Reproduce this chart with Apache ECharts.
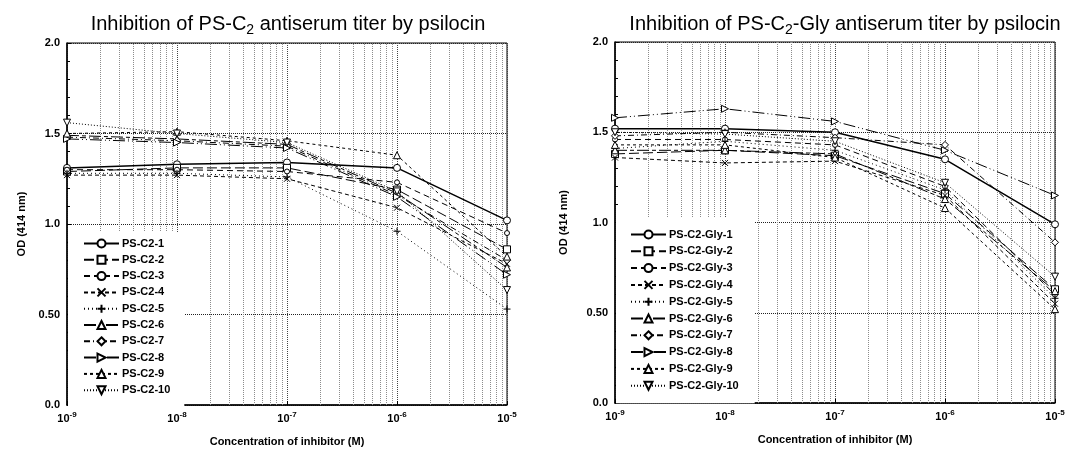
<!DOCTYPE html>
<html><head><meta charset="utf-8">
<script src="https://cdn.jsdelivr.net/npm/echarts@6/dist/echarts.min.js"></script>
<style>html,body{margin:0;padding:0;background:#fff}#c{width:1091px;height:457px}</style>
</head><body><div id="c"></div>
<script>
// ---- data ----
const xValues = [1e-9, 1e-8, 1e-7, 1e-6, 1e-5];
const xTickExp = [-9, -8, -7, -6, -5];
const yTicks = [0, 0.5, 1.0, 1.5, 2.0];
const yTickLabels = ['0.0', '0.50', '1.0', '1.5', '2.0'];

const leftTitle = 'Inhibition of PS-C{sub|2} antiserum titer by psilocin';
const rightTitle = 'Inhibition of PS-C{sub|2}-Gly antiserum titer by psilocin';
const xAxisName = 'Concentration of inhibitor (M)';
const yAxisName = 'OD (414 nm)';

const leftNames = ['PS-C2-1','PS-C2-2','PS-C2-3','PS-C2-4','PS-C2-5','PS-C2-6','PS-C2-7','PS-C2-8','PS-C2-9','PS-C2-10'];
const psc2_1  = [1.31, 1.33, 1.34, 1.31, 1.02];
const psc2_2  = [1.29, 1.31, 1.31, 1.19, 0.86];
const psc2_3  = [1.30, 1.30, 1.29, 1.23, 0.95];
const psc2_4  = [1.27, 1.27, 1.25, 1.09, 0.78];
const psc2_5  = [1.28, 1.28, 1.26, 0.96, 0.53];
const psc2_6  = [1.49, 1.47, 1.44, 1.17, 0.76];
const psc2_7  = [1.48, 1.46, 1.43, 1.16, 0.80];
const psc2_8  = [1.47, 1.45, 1.42, 1.15, 0.72];
const psc2_9  = [1.50, 1.51, 1.46, 1.38, 0.82];
const psc2_10 = [1.56, 1.50, 1.45, 1.18, 0.635];
const leftValues = [psc2_1, psc2_2, psc2_3, psc2_4, psc2_5, psc2_6, psc2_7, psc2_8, psc2_9, psc2_10];

const rightNames = ['PS-C2-Gly-1','PS-C2-Gly-2','PS-C2-Gly-3','PS-C2-Gly-4','PS-C2-Gly-5','PS-C2-Gly-6','PS-C2-Gly-7','PS-C2-Gly-8','PS-C2-Gly-9','PS-C2-Gly-10'];
const gly_1  = [1.52, 1.52, 1.50, 1.35, 0.99];
const gly_2  = [1.38, 1.40, 1.37, 1.16, 0.63];
const gly_3  = [1.46, 1.46, 1.43, 1.20, 0.60];
const gly_4  = [1.36, 1.33, 1.34, 1.15, 0.55];
const gly_5  = [1.41, 1.45, 1.40, 1.18, 0.58];
const gly_6  = [1.40, 1.40, 1.38, 1.13, 0.62];
const gly_7  = [1.48, 1.50, 1.47, 1.43, 0.89];
const gly_8  = [1.58, 1.63, 1.56, 1.40, 1.15];
const gly_9  = [1.43, 1.43, 1.36, 1.08, 0.52];
const gly_10 = [1.50, 1.49, 1.45, 1.22, 0.70];
const rightValues = [gly_1, gly_2, gly_3, gly_4, gly_5, gly_6, gly_7, gly_8, gly_9, gly_10];

// ---- styles ----
const symbols = ['circle','rect','circle','path://M0,0L10,10M10,0L0,10','path://M5,0L5,10M0,5L10,5','triangle','diamond','triangle','triangle','triangle'];
const symbolRot = [0,0,0,0,0,0,0,-90,0,180];
const symbolSizes = [7,7,5,6,7,7,7,7,7,7];
const lineTypes = ['solid',[10,4],[6,4],[4,3],[1,3],[12,3,4,3],[6,3,1,3],[12,3,1,3,1,3],[3,3],[1,2]];
const lineWidths = [1.5,1,1,1,1,1,1,1,1,1];

// minor log grid positions (2..9 within each decade)
const minorX = [];
for (let d = -9; d <= -6; d++) for (let k = 2; k <= 9; k++) minorX.push(k * Math.pow(10, d));

const FONT = 'Liberation Sans, Arial, Helvetica, sans-serif';

function makeSeries(names, values, gi) {
  const out = [{
    type: 'lines', coordinateSystem: 'cartesian2d', xAxisIndex: gi, yAxisIndex: gi,
    silent: true, animation: false, z: 1,
    lineStyle: { type: 'dotted', color: '#8c8c8c', width: 1, opacity: 1 },
    data: minorX.map(v => ({ coords: [[v, 0], [v, 2]] }))
  }];
  names.forEach((n, i) => {
    out.push({
      name: n, type: 'line', xAxisIndex: gi, yAxisIndex: gi,
      data: xValues.map((x, j) => [x, values[i][j]]),
      symbol: symbols[i], symbolRotate: symbolRot[i], symbolSize: symbolSizes[i],
      showAllSymbol: true,
      lineStyle: { color: '#000', width: lineWidths[i], type: lineTypes[i] },
      itemStyle: { color: '#fff', borderColor: '#000', borderWidth: 1 },
      emphasis: { disabled: true },
      animation: false, z: 5
    });
  });
  return out;
}

function xAxisCfg(gi) {
  return {
    type: 'log', logBase: 10, min: 1e-9, max: 1e-5, gridIndex: gi,
    name: xAxisName, nameLocation: 'middle', nameGap: 31,
    nameTextStyle: { fontFamily: FONT, fontWeight: 'bold', fontSize: 11, color: '#000' },
    axisLine: { lineStyle: { color: '#000', width: 1.5 } },
    axisTick: { show: true, inside: true, length: 4, lineStyle: { color: '#000' } },
    splitLine: { show: true, lineStyle: { type: 'dotted', color: '#444', width: 1 } },
    axisLabel: {
      color: '#000', fontFamily: FONT, fontWeight: 'bold', fontSize: 11, margin: 6,
      formatter: v => {
        const e = Math.round(Math.log10(v));
        const idx = xTickExp.indexOf(e);
        return '10{sup|' + xTickExp[idx] + '}';
      },
      rich: { sup: { fontSize: 8, fontFamily: FONT, fontWeight: 'bold', verticalAlign: 'top', lineHeight: 15, color: '#000' } }
    }
  };
}

function yAxisCfg(gi, gap) {
  return {
    type: 'value', min: 0, max: 2, interval: 0.5, gridIndex: gi,
    name: yAxisName, nameLocation: 'middle', nameGap: gap, nameRotate: 90,
    nameTextStyle: { fontFamily: FONT, fontWeight: 'bold', fontSize: 11, color: '#000' },
    axisLine: { show: true, lineStyle: { color: '#000', width: 1.5 } },
    axisTick: { show: true, inside: true, length: 4, lineStyle: { color: '#000' } },
    minorTick: { show: true, splitNumber: 5, length: 3, lineStyle: { color: '#000' } },
    splitLine: { show: true, lineStyle: { type: 'dotted', color: '#222', width: 1 } },
    axisLabel: {
      color: '#000', fontFamily: FONT, fontWeight: 'bold', fontSize: 11, margin: 7,
      formatter: v => { const i = yTicks.findIndex(t => Math.abs(t - v) < 1e-9); return i >= 0 ? yTickLabels[i] : ''; }
    }
  };
}

const titleRich = { sub: { fontSize: 14, fontFamily: FONT, verticalAlign: 'bottom', lineHeight: 26, color: '#000' } };

const option = {
  backgroundColor: '#fff',
  animation: false,
  title: [
    { text: leftTitle, left: 283, top: 6, textAlign: 'center',
      textStyle: { fontFamily: FONT, fontSize: 20, fontWeight: 'normal', color: '#000', lineHeight: 26, rich: titleRich } },
    { text: rightTitle, left: 840, top: 6, textAlign: 'center',
      textStyle: { fontFamily: FONT, fontSize: 20, fontWeight: 'normal', color: '#000', lineHeight: 26, rich: titleRich } }
  ],
  grid: [
    { left: 67, top: 43, width: 440, height: 362, show: true, borderColor: '#000', borderWidth: 1, backgroundColor: 'transparent' },
    { left: 615, top: 42, width: 440, height: 361, show: true, borderColor: '#000', borderWidth: 1, backgroundColor: 'transparent' }
  ],
  xAxis: [xAxisCfg(0), xAxisCfg(1)],
  yAxis: [yAxisCfg(0, 40), yAxisCfg(1, 46)],
  legend: [
    { data: leftNames, orient: 'vertical', left: 68, top: 232, itemWidth: 35, itemHeight: 10, itemGap: 5.3,
      textStyle: { fontFamily: FONT, fontWeight: 'bold', fontSize: 11, color: '#000', lineHeight: 10, padding: [0,0,0,-2] },
      backgroundColor: '#fff', padding: [6, 14, 12, 15], selectedMode: false, z: 3 },
    { data: rightNames, orient: 'vertical', left: 616, top: 218, itemWidth: 35, itemHeight: 10, itemGap: 5.8,
      textStyle: { fontFamily: FONT, fontWeight: 'bold', fontSize: 11, color: '#000', lineHeight: 10, padding: [0,0,0,-2] },
      backgroundColor: '#fff', padding: [11, 16, 12, 14], selectedMode: false, z: 3 }
  ],
  series: makeSeries(leftNames, leftValues, 0).concat(makeSeries(rightNames, rightValues, 1))
};

const chart = echarts.init(document.getElementById('c'), null, { renderer: 'canvas' });
chart.setOption(option);
</script>
</body></html>
